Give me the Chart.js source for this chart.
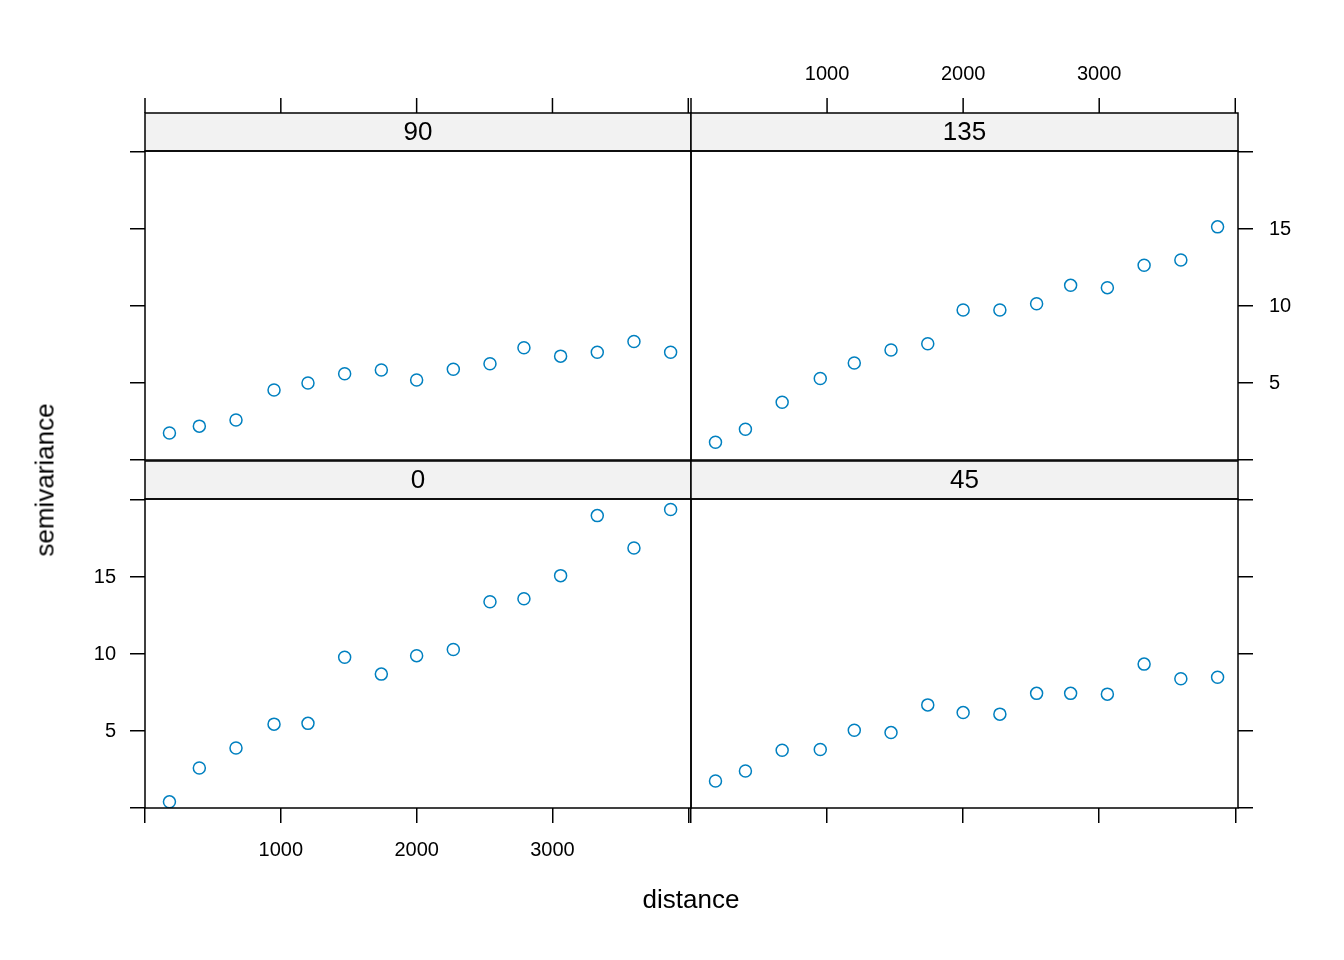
<!DOCTYPE html>
<html><head><meta charset="utf-8">
<script src="https://cdn.jsdelivr.net/npm/chart.js@4"></script>
<style>
body{margin:0;width:1344px;height:960px;background:#fff;position:relative;overflow:hidden;font-family:"Liberation Sans",Arial,sans-serif}
canvas{position:absolute;left:0;top:0}
.t{position:absolute;font-size:26px;color:#000}
</style></head><body>
<canvas id="c0" width="1344" height="960"></canvas>
<canvas id="c1" width="1344" height="960"></canvas>
<canvas id="c2" width="1344" height="960"></canvas>
<canvas id="c3" width="1344" height="960"></canvas>
<div class="t" style="left:691px;top:884px;transform:translateX(-50%)">distance</div>
<div class="t" style="left:45px;top:480px;transform:translate(-50%,-50%) rotate(-90deg)">semivariance</div>
<script>
const panels = ["90","135","0","45"];
const distance = [180,400,670,950,1200,1470,1740,2000,2270,2540,2790,3060,3330,3600,3870];
const gamma90  = [1.75,2.2,2.6,4.55,5.0,5.6,5.85,5.2,5.9,6.25,7.3,6.75,7.0,7.7,7.0];
const gamma135 = [1.15,2.0,3.75,5.3,6.3,7.15,7.55,9.75,9.75,10.15,11.35,11.2,12.65,13.0,15.15];
const gamma0   = [0.4,2.6,3.9,5.45,5.5,9.8,8.7,9.9,10.3,13.4,13.6,15.1,19.0,16.9,19.4];
const gamma45  = [1.75,2.4,3.75,3.8,5.05,4.9,6.7,6.2,6.1,7.45,7.45,7.4,9.35,8.4,8.5];
const xTicks = [0,1000,2000,3000,4000];
const xLabels = [1000,2000,3000];
const yTicks = [0,5,10,15,20];
const yLabels = [5,10,15];

const series = [gamma90,gamma135,gamma0,gamma45];
const boxes = [
 {l:145,r:691,t:151,b:460,top:true,left:true},
 {l:691,r:1238,t:151,b:460,top:true,left:false},
 {l:145,r:691,t:499,b:808,top:false,left:true},
 {l:691,r:1238,t:499,b:808,top:false,left:false}
];
const F = {family:"'Liberation Sans', Arial, sans-serif", size:20};
const STRIP = 38, TL = 15;

panels.forEach((name,i)=>{
  const B = boxes[i];
  const axW = 20;
  const xLab = !B.top && B.left, yLab = (B.left && !B.top) || (!B.left && B.top);
  const pad = {left:B.left?B.l-axW:B.l, right:B.left?1344-B.r:1344-B.r-axW, top:B.t, bottom:960-B.b-axW};
  const plugin = {
    id:'lattice'+i,
    afterDraw(ch){
      const c=ch.ctx, a=ch.chartArea, xs=ch.scales.x, ys=ch.scales.y;
      c.save();
      c.fillStyle='#f2f2f2';
      c.fillRect(a.left,a.top-STRIP,a.right-a.left,STRIP);
      c.strokeStyle='#000'; c.lineWidth=1.5;
      c.strokeRect(a.left,a.top-STRIP,a.right-a.left,STRIP);
      c.strokeRect(a.left,a.top,a.right-a.left,a.bottom-a.top);
      c.fillStyle='#000'; c.font="26px 'Liberation Sans', Arial";
      c.textAlign='center'; c.textBaseline='middle';
      c.fillText(name,(a.left+a.right)/2,a.top-STRIP/2+1);
      c.font="20px 'Liberation Sans', Arial";
      if(B.top){
        const y0=a.top-STRIP;
        xTicks.forEach(v=>{
          const px=xs.getPixelForValue(v);
          c.beginPath(); c.moveTo(px,y0); c.lineTo(px,y0-TL); c.stroke();
          if(!B.left && xLabels.includes(v)) c.fillText(String(v),px,y0-TL-24);
        });
      } else if(xLab){
        xLabels.forEach(v=>c.fillText(String(v),xs.getPixelForValue(v),a.bottom+TL+27));
      }
      if(yLab){
        c.textAlign=B.left?'right':'left';
        yLabels.forEach(v=>{
          const py=ys.getPixelForValue(v);
          c.fillText(String(v),B.left?a.left-TL-14:a.right+TL+16,py);
        });
      }
      c.restore();
    }
  };
  const yAxis = {
    type:'linear', position:B.left?'left':'right', min:0, max:20.08,
    afterBuildTicks:s=>{s.ticks=yTicks.map(v=>({value:v}));},
    afterFit:s=>{s.width=axW;},
    grid:{drawOnChartArea:false,drawTicks:true,tickLength:TL,color:'#000',lineWidth:1.5},
    border:{display:false},
    ticks:{display:false}
  };
  const xAxis = {
    type:'linear', position:'bottom', min:0, max:4020, display:true,
    afterBuildTicks:s=>{s.ticks=xTicks.map(v=>({value:v}));},
    afterFit:s=>{s.height=axW;},
    grid:{drawOnChartArea:false,drawTicks:!B.top,tickLength:TL,color:B.top?'rgba(0,0,0,0)':'#000',lineWidth:1.5},
    border:{display:false},
    ticks:{display:false}
  };
  new Chart(document.getElementById('c'+i),{
    type:'scatter',
    data:{datasets:[{data:distance.map((d,k)=>({x:d,y:series[i][k]})),
      pointRadius:6,pointBorderWidth:1.5,pointBorderColor:'#0080c0',pointBackgroundColor:'rgba(0,0,0,0)'}]},
    options:{responsive:false,animation:false,
      layout:{padding:pad},
      plugins:{legend:{display:false},tooltip:{enabled:false}},
      scales:{x:xAxis,y:yAxis}},
    plugins:[plugin]
  });
});
</script>
</body></html>
